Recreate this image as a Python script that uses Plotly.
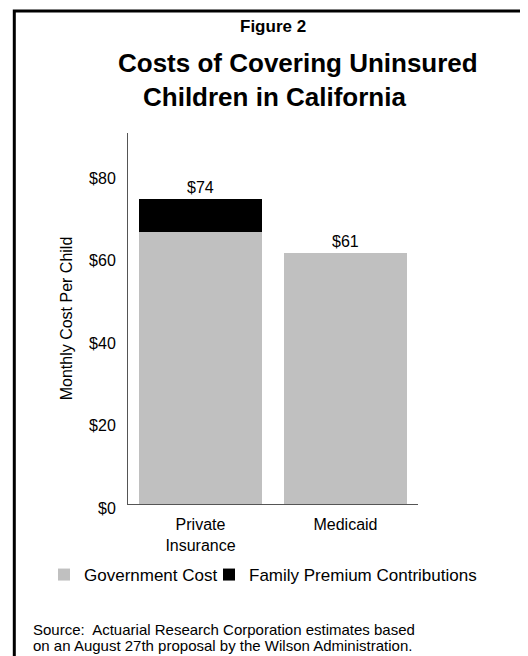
import plotly.graph_objects as go

categories = ["Private<br>Insurance", "Medicaid"]
government_cost = [66, 61]
family_contrib = [8, 0]
totals = [74, 61]
total_labels = ["$74", "$61"]
series_names = ["Government Cost", "Family Premium Contributions"]
series_colors = ["#C0C0C0", "#000000"]
tick_values = [0, 20, 40, 60, 80]
tick_labels = ["$0", "$20", "$40", "$60", "$80"]

# page body has an 8px margin, so the figure is drawn 8px smaller / offset
OFF = 8
W, H = 520, 648
PAPER_L, PAPER_R = 20, 508          # paper area in window pixels (wide, so legend fits on one row)
AX_L, AX_R, PLOT_T, PLOT_B = 128, 418, 133, 504   # visible axes box in window pixels
L, T = PAPER_L - OFF, PLOT_T - OFF
PW, PH = PAPER_R - PAPER_L, PLOT_B - PLOT_T
R, B = W - L - PW, H - T - PH

def px(x):
    return (x - PAPER_L) / PW

def py(y):
    return (PLOT_B - y) / PH

FONT = "Arial, Liberation Sans, sans-serif"

fig = go.Figure()
fig.add_trace(go.Bar(x=categories, y=government_cost, name=series_names[0], legendwidth=120,
                     marker=dict(color=series_colors[0], line=dict(width=0))))
fig.add_trace(go.Bar(x=categories, y=family_contrib, name=series_names[1], legendwidth=245,
                     marker=dict(color=series_colors[1], line=dict(width=0))))

annotations = []
for c, t, lab in zip(categories, totals, total_labels):
    annotations.append(dict(x=c, y=t, text=lab, showarrow=False, yanchor="bottom",
                            yshift=1, font=dict(size=16, color="black", family=FONT)))

annotations += [
    dict(xref="paper", yref="paper", x=px(273), y=py(27), text="<b>Figure 2</b>",
         showarrow=False, xanchor="center", yanchor="middle",
         font=dict(size=17, color="black", family=FONT)),
    dict(xref="paper", yref="paper", x=px(298), y=py(63), text="<b>Costs of Covering Uninsured</b>",
         showarrow=False, xanchor="center", yanchor="middle",
         font=dict(size=26, color="black", family=FONT)),
    dict(xref="paper", yref="paper", x=px(274), y=py(97), text="<b>Children in California</b>",
         showarrow=False, xanchor="center", yanchor="middle",
         font=dict(size=26, color="black", family=FONT)),
    dict(xref="paper", yref="paper", x=px(31), y=py(629),
         text="Source:  Actuarial Research Corporation estimates based",
         showarrow=False, xanchor="left", yanchor="middle", align="left",
         font=dict(size=15, color="black", family=FONT)),
    dict(xref="paper", yref="paper", x=px(31), y=py(645),
         text="on an August 27th proposal by the Wilson Administration.",
         showarrow=False, xanchor="left", yanchor="middle", align="left",
         font=dict(size=15, color="black", family=FONT)),
]

fig.update_layout(
    width=W, height=H,
    margin=dict(l=L, r=R, t=T, b=B, autoexpand=False),
    paper_bgcolor="white", plot_bgcolor="white",
    barmode="stack", bargap=0.145,
    font=dict(family=FONT, color="black", size=16),
    showlegend=True,
    legend=dict(orientation="h", x=px(44), xanchor="left", y=py(575), yanchor="middle",
                font=dict(size=17, color="black", family=FONT), traceorder="normal",
                itemclick=False, bgcolor="rgba(0,0,0,0)"),
    annotations=annotations,
    shapes=[dict(type="rect", xref="paper", yref="paper",
                 x0=px(14.3), x1=px(580), y0=py(720), y1=py(11),
                 line=dict(color="black", width=3), fillcolor="rgba(0,0,0,0)", layer="above")],
)
fig.update_xaxes(domain=[px(AX_L), px(AX_R)], showgrid=False, showline=True,
                 linecolor="#555555", linewidth=1, ticks="", ticklabelstandoff=6,
                 tickfont=dict(size=16, color="black", family=FONT))
fig.update_yaxes(range=[0, 90], tickvals=tick_values, ticktext=tick_labels,
                 showgrid=False, zeroline=False, showline=True, linecolor="#555555", linewidth=1,
                 ticks="", ticklabelstandoff=8, ticklabelshift=4,
                 tickfont=dict(size=16, color="black", family=FONT),
                 title=dict(text="Monthly Cost Per Child", font=dict(size=16, color="black", family=FONT),
                            standoff=12))

fig.write_html("out.html")
